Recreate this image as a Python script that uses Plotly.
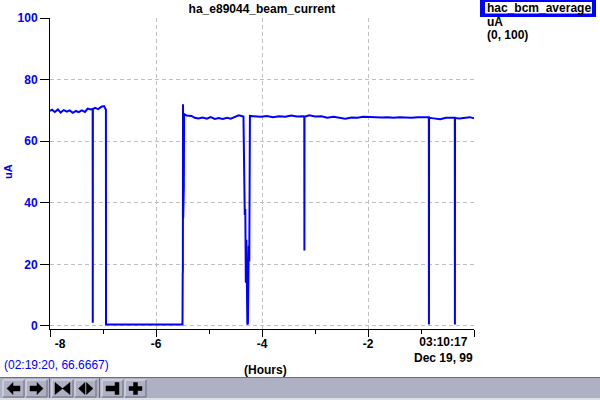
import plotly.graph_objects as go

# ---------------- data ----------------
HOURS = [
    -8.00, -7.96, -7.91, -7.85, -7.80, -7.74, -7.68, -7.63, -7.57, -7.51,
    -7.46, -7.40, -7.34, -7.29, -7.23, -7.195, -7.193, -7.191, -7.15, -7.09,
    -7.03, -6.98, -6.945, -6.943,
    -5.505, -5.500, -5.496, -5.493, -5.490, -5.487, -5.484, -5.481, -5.478, -5.475,
    -5.47, -5.42, -5.33, -5.27, -5.20, -5.12, -5.04, -4.97, -4.89, -4.82,
    -4.74, -4.66, -4.59, -4.51, -4.44, -4.35, -4.335, -4.325, -4.315, -4.305,
    -4.295, -4.285, -4.276, -4.266, -4.250, -4.240, -4.228,
    -4.13, -4.02, -3.91, -3.79, -3.68, -3.56, -3.45, -3.34, -3.22, -3.202,
    -3.200, -3.198, -3.11, -3.00, -2.88, -2.77, -2.65, -2.54, -2.43, -2.31,
    -2.20, -2.09, -1.97, -1.86, -1.74, -1.63, -1.52, -1.40, -1.29, -1.18,
    -1.06, -0.95, -0.852, -0.850, -0.848, -0.76, -0.64, -0.53, -0.42, -0.362,
    -0.360, -0.358, -0.27, -0.15, -0.08, 0.0,
]
CURRENT = [
    69.8, 70.2, 69.5, 70.3, 69.3, 70.1, 69.6, 70.0, 69.2, 69.8,
    69.4, 70.0, 69.5, 70.6, 70.3, 70.5, 1.0, 70.4, 70.8, 70.4,
    71.2, 71.4, 70.2, 0.5,
    0.5, 0.5, 17.0, 17.5, 72.0, 35.0, 71.2, 38.0, 70.0, 45.0,
    68.8, 68.3, 68.2, 67.6, 67.4, 67.7, 67.3, 67.8, 67.2, 67.5,
    67.2, 67.6, 67.3, 67.8, 68.4, 68.0, 37.5, 36.0, 38.0, 14.0,
    28.0, 16.0, 0.5, 0.8, 26.0, 21.0, 68.2,
    68.1, 67.9, 68.2, 67.8, 68.1, 67.9, 68.3, 68.0, 68.1, 68.0,
    24.5, 67.9, 68.4, 68.0, 68.1, 67.6, 67.9, 67.5, 67.3, 67.7,
    67.6, 67.9, 67.8, 67.9, 67.7, 67.8, 67.6, 67.8, 67.7, 67.6,
    67.8, 67.7, 67.8, 0.5, 67.6, 67.4, 67.1, 67.6, 67.5, 67.6,
    0.5, 67.5, 67.4, 67.6, 67.8, 67.4,
]

X_TICKS = [-8, -6, -4, -2, 0]
X_TICK_TEXT = ["\u00a0" * 6 + "-8", "-6", "-4", "-2", ""]
X_MINOR = [-7, -5, -3, -1]
Y_TICKS = [0, 20, 40, 60, 80, 100]

TITLE = "ha_e89044_beam_current"
SERIES = "hac_bcm_average"
UNITS = "uA"
SCALE = "(0, 100)"
STATUS = "(02:19:20, 66.6667)"
XLABEL = "(Hours)"
END_TIME = "03:10:17<br>Dec 19, 99"

BLUE = "#0000ff"
FONT = "Liberation Sans"

# ---------------- geometry helpers (pixels -> paper) ----------------
L, R, T, B = 50, 126, 18, 71
W, H = 600, 400
PW, PH = W - L - R, H - T - B


def px(x):
    return (x - L) / PW


def py(y):
    return (H - B - y) / PH


fig = go.Figure()
fig.add_trace(go.Scatter(x=HOURS, y=CURRENT, mode="lines",
                         line=dict(color=BLUE, width=2), hoverinfo="skip"))

shapes = []
annotations = []

# legend box
shapes.append(dict(type="rect", xref="paper", yref="paper",
                   x0=px(480), x1=px(596), y0=py(0), y1=py(17),
                   fillcolor=BLUE, line=dict(width=0), layer="above"))
shapes.append(dict(type="rect", xref="paper", yref="paper",
                   x0=px(485), x1=px(592), y0=py(2), y1=py(13.5),
                   fillcolor="white", line=dict(width=0), layer="above"))


def ann(text, x, y, xanchor="left", color="black", bold=True, size=12, **kw):
    annotations.append(dict(text=text, x=px(x), y=py(y), xref="paper", yref="paper",
                            xanchor=xanchor, yanchor="middle", showarrow=False,
                            font=dict(family=FONT, size=size, color=color,
                                      weight="bold" if bold else "normal"),
                            **kw))


ann(SERIES, 485, 8)
ann(UNITS, 485, 22.5)
ann(SCALE, 485, 34.5)
ann(STATUS, 2, 365, color=BLUE, bold=False)
ann(XLABEL, 265, 370, xanchor="center")
ann(END_TIME, 443, 350, xanchor="center")
ann(UNITS, 8, 172, xanchor="center", color=BLUE, size=11, textangle=-90)

# toolbar
shapes.append(dict(type="rect", xref="paper", yref="paper",
                   x0=px(0), x1=px(600), y0=py(377), y1=py(400),
                   fillcolor="#aeb1c4", line=dict(width=0), layer="above"))
shapes.append(dict(type="line", xref="paper", yref="paper",
                   x0=px(0), x1=px(600), y0=py(377.5), y1=py(377.5),
                   line=dict(color="#6c6c78", width=1), layer="above"))
shapes.append(dict(type="rect", xref="paper", yref="paper",
                   x0=px(0), x1=px(600), y0=py(398), y1=py(400),
                   fillcolor="#dcdde6", line=dict(width=0), layer="above"))

buttons = [(3, 24), (26, 47), (52, 73), (75, 96), (102, 123), (125, 146)]
for x0, x1 in buttons:
    shapes.append(dict(type="path", xref="paper", yref="paper",
                       path=f"M{px(x0)},{py(397)} L{px(x0)},{py(380)} L{px(x1)},{py(380)}",
                       line=dict(color="#e4e5ee", width=1), layer="above"))
    shapes.append(dict(type="path", xref="paper", yref="paper",
                       path=f"M{px(x1)},{py(380)} L{px(x1)},{py(397)} L{px(x0)},{py(397)}",
                       line=dict(color="#6c6c78", width=1), layer="above"))
for sx in (49.5, 99.5):
    shapes.append(dict(type="line", xref="paper", yref="paper",
                       x0=px(sx), x1=px(sx), y0=py(378), y1=py(398),
                       line=dict(color="#6c6c78", width=1), layer="above"))


def poly(pts):
    d = "M" + " L".join(f"{px(a)},{py(b)}" for a, b in pts) + " Z"
    shapes.append(dict(type="path", xref="paper", yref="paper", path=d,
                       fillcolor="black", line=dict(color="black", width=0.5),
                       layer="above"))


# left arrow
poly([(7, 388.5), (13, 382.5), (13, 386), (20, 386), (20, 391), (13, 391), (13, 394.5)])
# right arrow
poly([(43, 388.5), (37, 382.5), (37, 386), (30, 386), (30, 391), (37, 391), (37, 394.5)])
# bowtie
poly([(55, 382.5), (62.5, 388.5), (55, 394.5)])
poly([(70, 382.5), (62.5, 388.5), (70, 394.5)])
# outward triangles
poly([(78.5, 388.5), (85, 382.5), (85, 394.5)])
poly([(86.5, 382.5), (93, 388.5), (86.5, 394.5)])
# bar with stop
poly([(106, 386), (116, 386), (116, 391), (106, 391)])
poly([(115, 382.5), (119, 382.5), (119, 394.5), (115, 394.5)])
# plus
poly([(129, 386.5), (142, 386.5), (142, 390.5), (129, 390.5)])
poly([(133.5, 382.5), (137.5, 382.5), (137.5, 394.5), (133.5, 394.5)])

grid = dict(showgrid=True, gridcolor="#c0c0c0", gridwidth=1, griddash="4px,3px",
            zeroline=False, showline=True, linecolor="black", linewidth=1,
            ticks="outside", tickcolor="black", tickwidth=1)

fig.update_layout(
    width=W, height=H, autosize=False,
    margin=dict(l=L, r=R, t=T, b=B, pad=0),
    plot_bgcolor="white", paper_bgcolor="white",
    showlegend=False,
    title=dict(text=TITLE, x=262 / W, xanchor="center", xref="container",
               y=1 - 9 / H, yanchor="middle", yref="container",
               font=dict(family=FONT, size=12, color="black", weight="bold")),
    xaxis=dict(range=[-8, 0], tickmode="array", tickvals=X_TICKS, ticktext=X_TICK_TEXT,
               ticklen=7, ticklabelstandoff=-3,
               minor=dict(tickmode="array", tickvals=X_MINOR, ticks="outside",
                          ticklen=4, tickcolor="black", showgrid=False),
               tickfont=dict(family=FONT, size=12, color="black", weight="bold"),
               **grid),
    yaxis=dict(range=[-1, 100], tickmode="array", tickvals=Y_TICKS, ticklen=9,
               tickfont=dict(family=FONT, size=12, color=BLUE, weight="bold"),
               **grid),
    shapes=shapes,
    annotations=annotations,
)

fig.write_html("out.html", config={"displayModeBar": False, "staticPlot": True},
               post_script="document.body.style.margin='0px';document.body.style.overflow='hidden';")
